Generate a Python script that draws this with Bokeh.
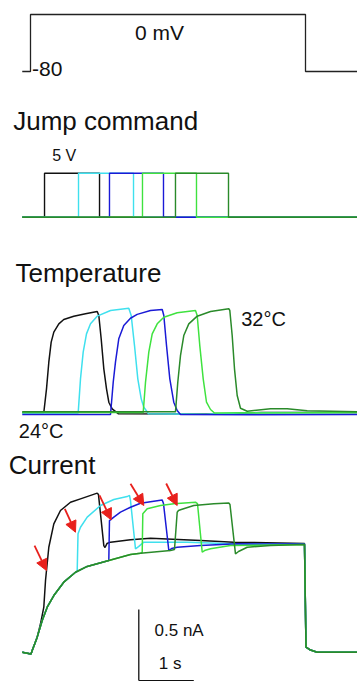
from bokeh.plotting import figure
from bokeh.models import Range1d, Label, Arrow, NormalHead
from bokeh.embed import file_html
from bokeh.resources import INLINE

W, H = 357, 681

# ---------------- data ----------------
# voltage protocol (mV) and its timing (s)
hold_mv = -80
step_mv = 0
step_on, step_off = 0.0, 5.0
sweep_start, sweep_end = -0.15, 5.945

# five temperature-jump sweeps
sweep_colors = ["#111111", "#3fe0ee", "#1a1ad6", "#3fe23f", "#2a8a2a"]

# jump command pulses (V), start / end times (s)
jump_level = 5.0
jump_on = [0.255, 0.873, 1.436, 2.036, 2.636]
jump_off = [1.255, 1.873, 2.418, 3.018, 3.600]

# bath temperature (deg C) for each sweep
temp_t = [
    [-0.15, 0.242, 0.291, 0.333, 0.376, 0.424, 0.515, 0.605, 0.787, 1.0, 1.213,
     1.242, 1.285, 1.333, 1.382, 1.424, 1.485, 1.6, 3.5, 4.2, 5.945],
    [-0.15, 0.867, 0.909, 0.958, 1.018, 1.091, 1.213, 1.455, 1.787, 1.831, 1.891,
     1.951, 2.013, 2.06, 2.145, 3.2, 3.8, 5.945],
    [-0.15, 1.455, 1.504, 1.545, 1.605, 1.696, 1.818, 1.94, 2.182, 2.395, 2.424,
     2.473, 2.533, 2.605, 2.667, 2.727, 4.0, 5.945],
    [-0.15, 2.049, 2.091, 2.151, 2.213, 2.304, 2.424, 2.667, 3.0, 3.031, 3.078,
     3.14, 3.2, 3.273, 3.345, 5.945],
    [-0.15, 2.636, 2.678, 2.727, 2.787, 2.878, 3.031, 3.273, 3.605, 3.624, 3.667,
     3.709, 3.758, 3.818, 3.94, 4.364, 4.667, 5.031, 5.945],
]
temp_c = [
    [24.0, 24.0, 25.82, 27.87, 29.41, 30.18, 30.82, 31.15, 31.41, 31.59, 31.77,
     31.46, 29.67, 27.36, 25.82, 24.79, 24.28, 23.9, 23.88, 24.0, 24.0],
    [23.97, 23.97, 26.59, 28.64, 30.05, 30.82, 31.41, 31.85, 32.02, 31.46, 29.15,
     26.59, 25.05, 24.41, 23.9, 23.86, 23.97, 24.0],
    [23.85, 23.85, 26.33, 27.87, 29.67, 30.69, 31.25, 31.55, 31.85, 31.92, 31.46,
     29.15, 26.59, 24.79, 24.15, 23.85, 23.83, 23.85],
    [24.0, 24.0, 26.33, 28.64, 30.05, 30.82, 31.33, 31.67, 31.85, 31.46, 29.15,
     26.59, 24.79, 24.23, 23.96, 24.0],
    [24.05, 24.05, 26.33, 28.38, 29.92, 30.82, 31.41, 31.77, 31.98, 31.85, 29.92,
     27.36, 25.31, 24.33, 24.1, 24.28, 24.28, 24.13, 24.05],
]

# current (nA): shared control rise, per-sweep departures, shared tail
ctrl_t = [-0.15, 0.009, 0.031, 0.122, 0.213, 0.304, 0.424, 0.605, 0.818, 1.031,
          1.424, 1.818, 2.0, 2.545, 3.091, 3.691, 4.309, 4.982]
ctrl_na = [0.0, -0.013, 0.012, 0.106, 0.223, 0.317, 0.399, 0.493, 0.563, 0.604,
           0.646, 0.688, 0.697, 0.716, 0.735, 0.744, 0.749, 0.758]
tail_t = [5.009, 5.091, 5.213, 5.945]
tail_na = [0.035, 0.015, 0.0, 0.0]

cur_t = [
    [0.182, 0.242, 0.273, 0.333, 0.424, 0.545, 0.727, 0.909, 1.213, 1.236, 1.333,
     1.355, 1.39, 1.455, 1.818, 2.182, 3.091, 3.691, 4.982],
    [0.849, 0.864, 0.909, 1.031, 1.273, 1.515, 1.758, 1.8, 1.818, 1.909, 1.964,
     2.06, 2.849, 3.636, 4.982],
    [1.424, 1.436, 1.515, 1.636, 1.818, 2.0, 2.242, 2.395, 2.418, 2.515, 2.564,
     2.667, 3.091, 3.758, 4.982],
    [2.031, 2.042, 2.122, 2.364, 2.605, 3.0, 3.036, 3.122, 3.164, 3.273, 3.636, 4.982],
    [2.618, 2.667, 2.691, 2.727, 2.969, 3.333, 3.605, 3.627, 3.727, 3.782, 3.94,
     4.364, 4.982],
]
cur_na = [
    [0.2, 0.317, 0.505, 0.739, 0.904, 0.998, 1.056, 1.08, 1.12, 1.11, 0.751,
     0.737, 0.765, 0.775, 0.792, 0.803, 0.787, 0.775, 0.765],
    [0.572, 0.834, 0.88, 0.951, 1.033, 1.075, 1.096, 1.104, 1.068, 0.728, 0.744,
     0.775, 0.775, 0.763, 0.76],
    [0.646, 0.927, 0.951, 0.986, 1.021, 1.049, 1.063, 1.072, 1.047, 0.716, 0.73,
     0.739, 0.751, 0.763, 0.762],
    [0.702, 0.975, 1.01, 1.033, 1.045, 1.056, 1.047, 0.704, 0.716, 0.728, 0.751, 0.758],
    [0.723, 0.986, 0.998, 1.003, 1.033, 1.045, 1.051, 1.04, 0.693, 0.709, 0.739,
     0.751, 0.758],
]

# arrows marking the current jump on each sweep (s, nA)
arrow_t0 = [0.073, 0.624, 1.255, 1.818, 2.467]
arrow_i0 = [0.751, 1.01, 1.104, 1.186, 1.188]
arrow_t1 = [0.291, 0.818, 1.467, 2.06, 2.667]
arrow_i1 = [0.575, 0.845, 0.932, 1.033, 1.033]

# calibration bars
bar_na = 0.5
bar_s = 1.0
bar_t = 1.969
bar_base_na = -0.2

FONT = "Liberation Sans"


# ---------------- ranges: each panel gets its own vertical scale ----------------
def x_range_from(t_a, px_a, t_b, px_b, size):
    k = (px_b - px_a) / (t_b - t_a)
    start = t_a - px_a / k
    return Range1d(start, start + size / k)


def y_range_from(v_lo, py_lo, v_hi, py_hi, size):
    k = (py_lo - py_hi) / (v_hi - v_lo)
    end = v_hi + py_hi / k
    return Range1d(end - size / k, end)


xr = x_range_from(0.0, 30.0, 5.0, 305.0, W)
r_cur = y_range_from(0.0, 651.7, 0.5, 580.7, H)

p = figure(width=W, height=H, x_range=xr, y_range=r_cur,
           toolbar_location=None, output_backend="svg",
           x_axis_type=None, y_axis_type=None,
           min_border=0, outline_line_color=None,
           background_fill_color="white", border_fill_color="white")
p.grid.visible = False
p.extra_y_ranges = {
    "mv": y_range_from(-80.0, 71.0, 0.0, 14.0, H),
    "jump": y_range_from(0.0, 216.7, 5.0, 172.7, H),
    "temp": y_range_from(24.0, 412.0, 32.0, 308.0, H),
}


def label(x, y, text, rng, size, align="left"):
    kw = {} if rng is None else {"y_range_name": rng}
    p.add_layout(Label(x=x, y=y, text=text, text_font=FONT,
                       text_font_size=size, text_align=align,
                       text_baseline="middle", text_color="#111111", **kw))


# ---- voltage protocol ----
p.line([sweep_start, step_on, step_on, step_off, step_off, sweep_end],
       [hold_mv, hold_mv, step_mv, step_mv, hold_mv, hold_mv],
       y_range_name="mv", line_color="#222222", line_width=1.3)
label(2.345, -25.3, "0 mV", "mv", "21px", "center")
label(0.027, -76.0, "-80", "mv", "21px")

# ---- jump command ----
for c, on, off in zip(sweep_colors, jump_on, jump_off):
    p.line([sweep_start, on, on, off, off, sweep_end],
           [0, 0, jump_level, jump_level, 0, 0],
           y_range_name="jump", line_color=c, line_width=1.4)
label(-0.315, 10.9, "Jump command", "jump", "26px")
label(0.395, 7.05, "5 V", "jump", "16px")

# ---- temperature ----
for c, tt, tc in zip(sweep_colors, temp_t, temp_c):
    p.line(tt, tc, y_range_name="temp", line_color=c, line_width=1.5)
label(-0.273, 34.7, "Temperature", "temp", "26px")
label(3.83, 31.2, "32°C", "temp", "20px")
label(-0.213, 22.6, "24°C", "temp", "20px")

# ---- current ----
for c, tt, ti in zip(sweep_colors, cur_t, cur_na):
    branch = tt[0]
    xs = [t for t in ctrl_t if t < branch] + tt + tail_t
    ys = [i for t, i in zip(ctrl_t, ctrl_na) if t < branch] + ti + tail_na
    p.line(xs, ys, line_color=c, line_width=1.5)

for t0, i0, t1, i1 in zip(arrow_t0, arrow_i0, arrow_t1, arrow_i1):
    p.add_layout(Arrow(x_start=t0, y_start=i0, x_end=t1, y_end=i1,
                       line_color="#e8201c", line_width=1.8,
                       end=NormalHead(size=11, fill_color="#e8201c",
                                      line_color="#e8201c")))

label(-0.395, 1.315, "Current", None, "26px")

# calibration bars
p.line([bar_t, bar_t], [bar_base_na, bar_base_na + bar_na],
       line_color="#111111", line_width=1.3)
p.line([bar_t, bar_t + bar_s], [bar_base_na, bar_base_na],
       line_color="#111111", line_width=1.3)
label(2.255, 0.153, "0.5 nA", None, "17px")
label(2.333, -0.08, "1 s", None, "17px")

open("out.html", "w").write(file_html(p, INLINE))
